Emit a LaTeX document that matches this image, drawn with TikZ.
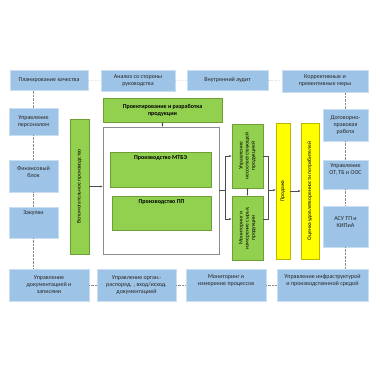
\documentclass[tikz,border=0pt]{standalone}
\usepackage{fontspec}
\setmainfont{Carlito}
\usetikzlibrary{arrows.meta,positioning,shadows}

\definecolor{boxblue}{HTML}{9DC3E6}
\definecolor{boxblueline}{HTML}{C9DEF1}
\definecolor{boxgreen}{HTML}{92D050}
\definecolor{boxgreenline}{HTML}{6E9E35}
\definecolor{boxyellow}{HTML}{FFFF00}
\definecolor{boxyellowline}{HTML}{B8B800}

\newcommand{\vtext}[1]{\rotatebox{90}{\begin{tabular}{@{}c@{}}#1\end{tabular}}}

\begin{document}
\begin{tikzpicture}[
    x=1pt, y=-1pt,
    blueblock/.style={rectangle, draw=boxblueline, fill=boxblue, align=center, inner sep=1pt, text=black!85, font=\fontsize{6}{7}\selectfont, drop shadow={shadow xshift=0.8pt, shadow yshift=-0.8pt, fill=black!25}},
    greenblock/.style={rectangle, draw=boxgreenline, fill=boxgreen, align=center, inner sep=1pt, font=\fontsize{6}{7}\selectfont\bfseries},
    vgreenblock/.style={greenblock, font=\fontsize{5.5}{6.2}\selectfont},
    yellowblock/.style={rectangle, draw=boxyellowline, fill=boxyellow, inner sep=1pt, font=\fontsize{5.5}{6.2}\selectfont},
    frameblock/.style={rectangle, draw=black!45, fill=white},
    dotline/.style={densely dotted, draw=black!45, thin},
    arrow/.style={-{Latex[length=2.5pt,width=2pt]}, draw=black!70, thin},
    dblarrow/.style={{Latex[length=2pt,width=2pt]}-{Latex[length=2pt,width=2pt]}, draw=black!70, thin},
    line/.style={draw=black!70, thin}
]
\useasboundingbox (0,0) rectangle (380,380);

% top row
\node[blueblock, minimum width=78pt, minimum height=20pt] (plan) at (49,80) {Планирование качества};
\node[blueblock, minimum width=74pt, minimum height=21pt] (review) at (138,80.5) {Анализ со стороны\\руководства};
\node[blueblock, minimum width=81pt, minimum height=20pt] (audit) at (227.5,80) {Внутренний аудит};
\node[blueblock, minimum width=86pt, minimum height=22pt] (corr) at (325,81) {Коррективные и\\превентивные меры};

% left column
\node[blueblock, minimum width=49pt, minimum height=27pt] (staff) at (33.5,121.5) {Управление\\персоналом};
\node[blueblock, minimum width=49pt, minimum height=32pt, text depth=9pt] (fin) at (33.5,176) {Финансовый\\блок};
\node[blueblock, minimum width=49pt, minimum height=31pt, text depth=20pt] (purch) at (33.5,222.5) {Закупки};

% right column
\node[blueblock, minimum width=45pt, minimum height=32pt] (contract) at (345.5,125) {Договорно-\\правовая\\работа};
\node[blueblock, minimum width=45pt, minimum height=29pt, text depth=10pt] (ot) at (345.5,174.5) {Управление\\ОТ, ТБ и ООС};
\node[blueblock, minimum width=45pt, minimum height=41pt, text depth=8pt] (asu) at (345.5,226.5) {АСУ ТП и\\КИПиА};

% bottom row
\node[blueblock, minimum width=80pt, minimum height=32pt] (docs) at (49,285) {Управление\\документацией и\\записями};
\node[blueblock, minimum width=79pt, minimum height=32pt] (orders) at (136.5,285) {Управление орган.-\\распоряд. , вход/исход.\\документацией};
\node[blueblock, minimum width=80pt, minimum height=32pt, text depth=10pt] (monproc) at (226,285) {Мониторинг и\\измерение процессов};
\node[blueblock, minimum width=91pt, minimum height=32pt, text depth=10pt] (infra) at (322.5,285) {Управление инфраструктурой\\и производственной средой};

% production
\node[greenblock, minimum width=119pt, minimum height=24pt] (design) at (162.5,110) {Проектирование и разработка\\продукции};
\node[frameblock, minimum width=116pt, minimum height=127pt] (frame) at (161,190.5) {};
\node[greenblock, minimum width=101pt, minimum height=35pt, text depth=24pt] (mtbe) at (160.5,169.5) {Производство МТБЭ};
\node[greenblock, minimum width=99pt, minimum height=34pt, text depth=23pt] (pp) at (161.5,213) {Производство ПП};
\node[vgreenblock, minimum width=19pt, minimum height=135pt] (aux) at (79.5,186.5) {\vtext{Вспомогательное производство}};
\node[vgreenblock, minimum width=31pt, minimum height=64pt] (nonconf) at (247.5,156) {\vtext{Управление\\несоответствующей\\продукцией}};
\node[vgreenblock, minimum width=31pt, minimum height=64pt] (moncheck) at (247.5,228) {\vtext{Мониторинг и\\измерение сырья,\\продукции}};
\node[yellowblock, minimum width=14pt, minimum height=136pt] (sale) at (283,191) {\vtext{Продажа}};
\node[yellowblock, minimum width=18pt, minimum height=136pt] (satisf) at (310,191) {\vtext{Оценка удовлетворенности потребителей}};

\coordinate (fork) at (225,190.5);
\coordinate (merge) at (268,190);

% dotted links
\draw[dotline] (plan) -- (review);
\draw[dotline] (review) -- (audit);
\draw[dotline] (audit) -- (corr);
\draw[dotline] (staff.north) -- (staff.north |- plan.south);
\draw[dotline] (staff) -- (fin);
\draw[dotline] (fin) -- (purch);
\draw[dotline] (purch.south) -- (purch.south |- docs.north);
\draw[dotline] (docs) -- (orders);
\draw[dotline] (orders) -- (monproc);
\draw[dotline] (monproc) -- (infra);
\draw[dotline] (contract.north) -- (contract.north |- corr.south);
\draw[dotline] (contract) -- (ot);
\draw[dotline] (ot) -- (asu);
\draw[dotline] (asu.south) -- (asu.south |- infra.north);

% flow
\draw[dblarrow] (design.south) -- (design.south |- frame.north);
\draw[arrow] (aux.east) -- (aux.east -| frame.west);
\draw[line] (frame.east |- fork) -- (fork);
\draw[arrow] (fork) |- (nonconf);
\draw[arrow] (fork) |- ([yshift=9pt]moncheck.west);
\draw[dblarrow] (nonconf) -- (moncheck);
\draw[line] (nonconf) -| (merge);
\draw[line] (merge) |- ([yshift=9pt]moncheck.east);
\draw[arrow] (merge) -- (merge -| sale.west);
\draw[arrow] (sale) -- (satisf);
\end{tikzpicture}
\end{document}
